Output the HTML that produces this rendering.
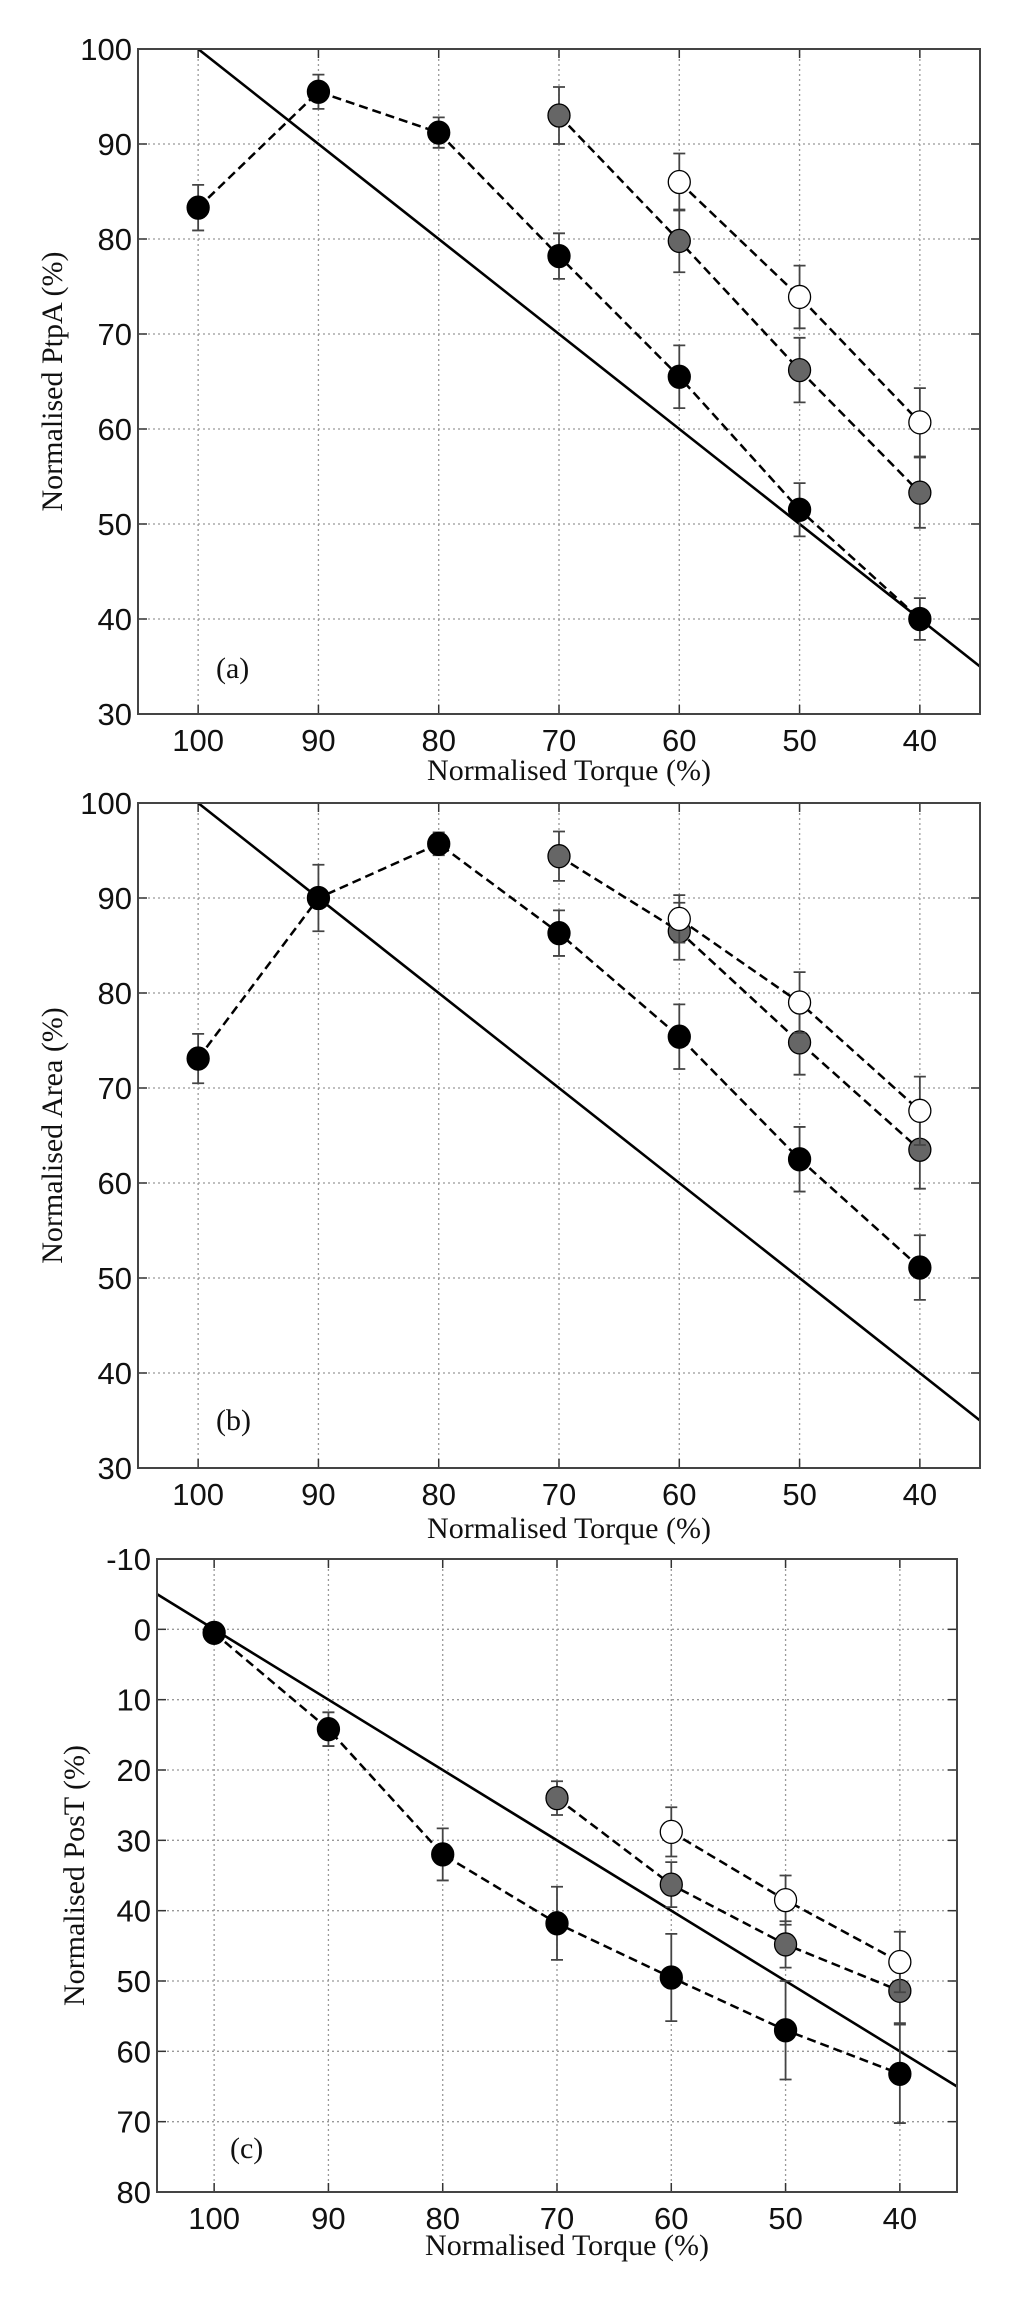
<!DOCTYPE html>
<html><head><meta charset="utf-8"><style>
html,body{margin:0;padding:0;background:#fff;}
svg{display:block;}
.tick{font-family:"Liberation Sans",sans-serif;font-size:31px;fill:#111;}
.ttl{font-family:"Liberation Serif",serif;font-size:30px;fill:#111;}
</style></head><body>
<svg id="fig" width="1024" height="2297" viewBox="0 0 1024 2297" xmlns="http://www.w3.org/2000/svg"></svg>
<script>
const xTicks = [100, 90, 80, 70, 60, 50, 40];
// Panel (a) PtpA
const aBlackX = [100, 90, 80, 70, 60, 50, 40];
const aBlackY = [83.3, 95.5, 91.2, 78.2, 65.5, 51.5, 40];
const aBlackErr = [2.4, 1.8, 1.6, 2.4, 3.3, 2.8, 2.2];
const aGrayX = [70, 60, 50, 40];
const aGrayY = [93, 79.8, 66.2, 53.3];
const aGrayErr = [3, 3.3, 3.4, 3.7];
const aWhiteX = [60, 50, 40];
const aWhiteY = [86, 73.9, 60.7];
const aWhiteErr = [3, 3.3, 3.6];
const aTicks = [30, 40, 50, 60, 70, 80, 90, 100];
// Panel (b) Area
const bBlackX = [100, 90, 80, 70, 60, 50, 40];
const bBlackY = [73.1, 90, 95.7, 86.3, 75.4, 62.5, 51.1];
const bBlackErr = [2.6, 3.5, 1.2, 2.4, 3.4, 3.4, 3.4];
const bGrayX = [70, 60, 50, 40];
const bGrayY = [94.4, 86.5, 74.8, 63.5];
const bGrayErr = [2.6, 3, 3.4, 4.1];
const bWhiteX = [60, 50, 40];
const bWhiteY = [87.8, 79, 67.6];
const bWhiteErr = [2.5, 3.2, 3.6];
const bTicks = [30, 40, 50, 60, 70, 80, 90, 100];
// Panel (c) PosT
const cBlackX = [100, 90, 80, 70, 60, 50, 40];
const cBlackY = [0.5, 14.2, 32, 41.8, 49.5, 57, 63.2];
const cBlackErr = [0, 2.4, 3.7, 5.2, 6.2, 7, 7];
const cGrayX = [70, 60, 50, 40];
const cGrayY = [24, 36.3, 44.8, 51.4];
const cGrayErr = [2.4, 3.2, 3.3, 4.6];
const cWhiteX = [60, 50, 40];
const cWhiteY = [28.8, 38.5, 47.3];
const cWhiteErr = [3.5, 3.5, 4.3];
const cTicks = [-10, 0, 10, 20, 30, 40, 50, 60, 70, 80];

const NS = "http://www.w3.org/2000/svg";
const svg = document.getElementById('fig');
function mk(tag, attrs, parent){
  const e = document.createElementNS(NS, tag);
  for (const k in attrs) e.setAttribute(k, attrs[k]);
  (parent||svg).appendChild(e);
  return e;
}

function panel(cfg){
  const g = mk('g', {});
  
  
  const L=cfg.L, R=cfg.R, T=cfg.T, B=cfg.B;
  const sx = v => L + (105 - v) / 70 * (R - L);
  const sy = cfg.invert ? (v => T + (v - cfg.yMin) / (cfg.yMax - cfg.yMin) * (B - T))
                        : (v => B - (v - cfg.yMin) / (cfg.yMax - cfg.yMin) * (B - T));
  // grid
  xTicks.forEach(t => {
    const l = mk('line', {x1:sx(t), x2:sx(t), y1:T, y2:B, stroke:'#999', 'stroke-width':1.3, 'stroke-dasharray':'2,3'}, g);
    
    
    mk('line', {x1:sx(t), x2:sx(t), y1:B, y2:B-9, stroke:'#333', 'stroke-width':1.5}, g);
    mk('line', {x1:sx(t), x2:sx(t), y1:T, y2:T+9, stroke:'#333', 'stroke-width':1.5}, g);
    const tx = mk('text', {x:sx(t), y:B+37, 'text-anchor':'middle', class:'tick'}, g);
    tx.textContent = t;
    
    
  });
  cfg.ticks.forEach(t => {
    const y = sy(t);
    if (y > T+1 && y < B-1) {
      const l = mk('line', {x1:L, x2:R, y1:y, y2:y, stroke:'#999', 'stroke-width':1.3, 'stroke-dasharray':'2,3'}, g);
      
      
    }
    mk('line', {x1:L, x2:L+9, y1:y, y2:y, stroke:'#333', 'stroke-width':1.5}, g);
    mk('line', {x1:R, x2:R-9, y1:y, y2:y, stroke:'#333', 'stroke-width':1.5}, g);
    const tx = mk('text', {x:L-6, y:y+11, 'text-anchor':'end', class:'tick'}, g);
    tx.textContent = t;
    
    
  });
  // reference solid line y = x (or 100-x for inverted)
  const f = cfg.invert ? (x => 100 - x) : (x => x);
  const x0 = cfg.invert ? 105 : 100;
  const ref = mk('line', {x1:sx(x0), y1:sy(f(x0)), x2:sx(35), y2:sy(f(35)), stroke:'#000', 'stroke-width':2.6}, g);
  
  
  // series
  cfg.series.forEach(s => {
    const pts = s.x.map((v,i) => sx(v) + ',' + sy(s.y[i])).join(' ');
    const pl = mk('polyline', {points:pts, fill:'none', stroke:'#000', 'stroke-width':2.5, 'stroke-dasharray':'9,5'}, g);
    
    
  });
  cfg.series.forEach(s => {
    s.x.forEach((v,i) => {
      const cx = sx(v), y1 = sy(s.y[i]-s.e[i]), y2 = sy(s.y[i]+s.e[i]);
      if (s.e[i] > 0) {
        const eb = mk('path', {d:`M${cx},${y1}V${y2}M${cx-6},${y1}H${cx+6}M${cx-6},${y2}H${cx+6}`, stroke:'#444', 'stroke-width':1.8, fill:'none'}, g);
        
        
      }
    });
    s.x.forEach((v,i) => {
      const c = mk('ellipse', {cx:sx(v), cy:sy(s.y[i]), rx:11, ry:11.5, fill:s.fill, stroke:'#000', 'stroke-width':1.3}, g);
      
      
    });
  });
  // axes box
  const box = mk('rect', {x:L, y:T, width:R-L, height:B-T, fill:'none', stroke:'#444', 'stroke-width':2}, g);
  
  
  const xl = mk('text', {x:(L+R)/2 + 10, y:cfg.xlY, 'text-anchor':'middle', class:'ttl'}, g);
  xl.textContent = 'Normalised Torque (%)';
  
  
  const yl = mk('text', {x:0, y:0, 'text-anchor':'middle', class:'ttl', transform:`translate(${cfg.ylX},${(T+B)/2}) rotate(-90)`}, g);
  yl.textContent = cfg.ylabel;
  
  
  const pl = mk('text', {x:cfg.lblX, y:cfg.lblY, class:'ttl'}, g);
  pl.textContent = '(' + cfg.id + ')';
  
  
}

panel({id:'a', L:138, R:980, T:49, B:714, yMin:30, yMax:100, ticks:aTicks, invert:false,
  xlY:780, ylX:62, ylabel:'Normalised PtpA (%)', lblX:216, lblY:678,
  series:[{name:'black',x:aBlackX,y:aBlackY,e:aBlackErr,fill:'#000'},
          {name:'gray',x:aGrayX,y:aGrayY,e:aGrayErr,fill:'#666'},
          {name:'white',x:aWhiteX,y:aWhiteY,e:aWhiteErr,fill:'#fff'}]});
panel({id:'b', L:138, R:980, T:803, B:1468, yMin:30, yMax:100, ticks:bTicks, invert:false,
  xlY:1538, ylX:62, ylabel:'Normalised Area (%)', lblX:216, lblY:1430,
  series:[{name:'black',x:bBlackX,y:bBlackY,e:bBlackErr,fill:'#000'},
          {name:'gray',x:bGrayX,y:bGrayY,e:bGrayErr,fill:'#666'},
          {name:'white',x:bWhiteX,y:bWhiteY,e:bWhiteErr,fill:'#fff'}]});
panel({id:'c', L:157, R:957, T:1559, B:2192, yMin:-10, yMax:80, ticks:cTicks, invert:true,
  xlY:2255, ylX:84, ylabel:'Normalised PosT (%)', lblX:230, lblY:2158,
  series:[{name:'black',x:cBlackX,y:cBlackY,e:cBlackErr,fill:'#000'},
          {name:'gray',x:cGrayX,y:cGrayY,e:cGrayErr,fill:'#666'},
          {name:'white',x:cWhiteX,y:cWhiteY,e:cWhiteErr,fill:'#fff'}]});
</script>
</body></html>
